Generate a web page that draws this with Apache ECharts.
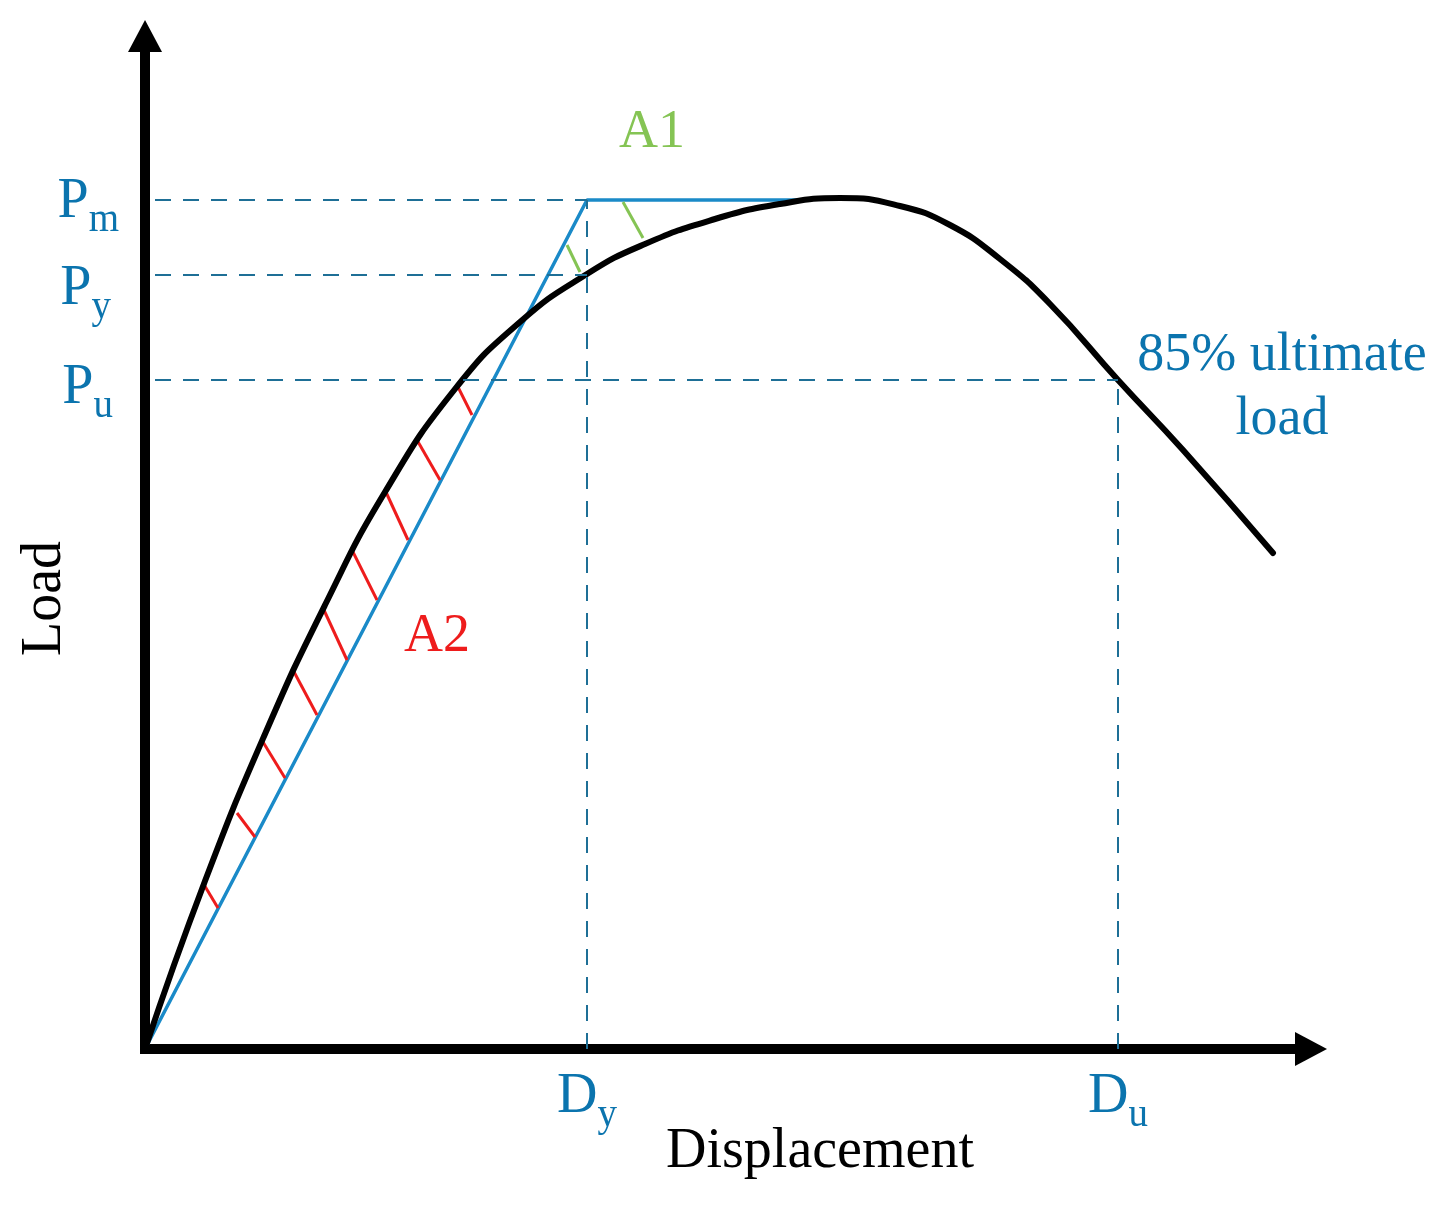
<!DOCTYPE html>
<html>
<head>
<meta charset="utf-8">
<script src="https://cdn.jsdelivr.net/npm/echarts@6/dist/echarts.min.js"></script>
<style>
  html, body { margin: 0; padding: 0; background: #fff; }
  #chart { width: 1452px; height: 1209px; }
</style>
</head>
<body>
<div id="chart"></div>
<script>
// load-displacement curve (arbitrary units)
var curveDisp = [0, 6.0, 12.0, 18.0, 24.0, 31.0, 37.5, 44.2, 50.0, 57.0, 63.5, 69.5, 75.5, 80.5, 85.5, 90.5, 97.3, 103.8, 112.8];
var curveLoad = [0, 16.8, 31.5, 44.4, 55.7, 66.0, 72.7, 77.5, 80.5, 83.0, 84.5, 85.1, 84.3, 82.4, 79.0, 74.5, 66.9, 59.9, 49.6];

// equivalent bilinear line
var bilinDisp = [0, 44.2, 66];
var bilinLoad = [0, 84.9, 84.9];

// characteristic load levels (Pm, Py, Pu) and displacements (Dy, Du)
var loadSubs = ['m', 'y', 'u'];
var loadValues = [84.9, 77.4, 66.9];
var loadLineEnds = [44.2, 44.2, 97.3];
var dispSubs = ['y', 'u'];
var dispValues = [44.2, 97.3];
var dispLineTops = [84.9, 66.9];

// hatch strokes [x1, y1, x2, y2]
var hatchA2 = [
  [5.8, 16.6, 7.3, 14.1],
  [9.2, 23.6, 11.0, 21.2],
  [11.8, 30.7, 14.0, 27.1],
  [14.8, 37.9, 17.2, 33.4],
  [17.8, 44.1, 20.2, 38.9],
  [20.7, 49.9, 23.2, 44.9],
  [24.0, 55.9, 26.3, 50.9],
  [27.2, 60.9, 29.5, 56.9],
  [31.2, 66.4, 32.7, 63.4]
];
var hatchA1 = [
  [42.2, 80.4, 43.5, 77.7],
  [47.8, 84.7, 49.8, 81.1]
];

// text annotations
var noteText = ['A1', 'A2', '85% ultimate\nload'];
var notePos = [[50.7, 91.6], [29.2, 41.2], [113.7, 66.1]];

var dispMax = 116.6;
var loadMax = 101.3;

var serif = 'Liberation Serif';
var lblBlue = '#0B74AE';
var guideBlue = '#1E6F96';
var lineBlue = '#1A8AC8';
var green = '#85C454';
var red = '#EE1C1C';

// P / D with a lowered subscript
var richSub = {
  p: { fontFamily: serif, fontSize: 56, lineHeight: 76, color: lblBlue },
  s: { fontFamily: serif, fontSize: 39, verticalAlign: 'bottom', color: lblBlue }
};
var loadLabelOffsets = [[0, 2], [-8, 14], [-6, 8]];

function zip(xs, ys) {
  return xs.map(function (x, i) { return [x, ys[i]]; });
}

function hatchData(list) {
  return list.map(function (h) {
    return { coords: [[h[0], h[1]], [h[2], h[3]]] };
  });
}

var guideData = [];
loadValues.forEach(function (v, i) {
  guideData.push([
    { coord: [1.0, v], label: { formatter: '{p|P}{s|' + loadSubs[i] + '}', distance: 36, offset: loadLabelOffsets[i] } },
    { coord: [loadLineEnds[i], v] }
  ]);
});
dispValues.forEach(function (v, i) {
  guideData.push([
    { coord: [v, 0], label: { formatter: '{p|D}{s|' + dispSubs[i] + '}', distance: 10 } },
    { coord: [v, dispLineTops[i]] }
  ]);
});

var noteColors = [green, red, lblBlue];
var noteData = noteText.map(function (t, i) {
  return {
    value: notePos[i],
    label: { formatter: t, color: noteColors[i] }
  };
});

var chart = echarts.init(document.getElementById('chart'));
chart.setOption({
  animation: false,
  backgroundColor: '#fff',
  grid: { left: 145, right: 141, top: 36, bottom: 160 },
  xAxis: {
    type: 'value',
    min: 0,
    max: dispMax,
    name: 'Displacement',
    nameLocation: 'middle',
    nameGap: 75,
    nameTextStyle: { fontFamily: serif, fontSize: 56, color: '#000', padding: [0, 0, 0, 184] },
    axisLine: {
      onZero: false,
      symbol: ['none', 'triangle'],
      symbolSize: [34, 32],
      lineStyle: { color: '#000', width: 10, cap: 'square' }
    },
    axisTick: { show: false },
    axisLabel: { show: false },
    splitLine: { show: false }
  },
  yAxis: {
    type: 'value',
    min: 0,
    max: loadMax,
    name: 'Load',
    nameLocation: 'middle',
    nameGap: 72,
    nameRotate: 90,
    nameTextStyle: { fontFamily: serif, fontSize: 56, color: '#000', padding: [0, 112, 0, 0] },
    axisLine: {
      onZero: false,
      symbol: ['none', 'triangle'],
      symbolSize: [34, 32],
      lineStyle: { color: '#000', width: 10, cap: 'square' }
    },
    axisTick: { show: false },
    axisLabel: { show: false },
    splitLine: { show: false }
  },
  series: [
    {
      name: 'guides',
      type: 'line',
      data: [],
      silent: true,
      z: 1,
      markLine: {
        silent: true,
        symbol: 'none',
        animation: false,
        lineStyle: { color: guideBlue, width: 2, type: [16, 12] },
        label: { show: true, position: 'start', rich: richSub },
        emphasis: { disabled: true },
        data: guideData
      }
    },
    {
      name: 'bilinear',
      type: 'line',
      data: zip(bilinDisp, bilinLoad),
      symbol: 'none',
      lineStyle: { color: lineBlue, width: 3.5 },
      z: 2
    },
    {
      name: 'A2 hatch',
      type: 'lines',
      coordinateSystem: 'cartesian2d',
      silent: true,
      lineStyle: { color: red, width: 3, opacity: 1 },
      data: hatchData(hatchA2),
      z: 3
    },
    {
      name: 'A1 hatch',
      type: 'lines',
      coordinateSystem: 'cartesian2d',
      silent: true,
      lineStyle: { color: green, width: 3, opacity: 1 },
      data: hatchData(hatchA1),
      z: 3
    },
    {
      name: 'load curve',
      type: 'line',
      data: zip(curveDisp, curveLoad),
      smooth: 0.5,
      symbol: 'none',
      lineStyle: { color: '#000', width: 6, cap: 'round' },
      z: 4
    },
    {
      name: 'notes',
      type: 'scatter',
      symbolSize: 0,
      silent: true,
      itemStyle: { opacity: 1 },
      label: {
        show: true,
        position: 'inside',
        fontFamily: serif,
        fontSize: 54,
        lineHeight: 64,
        align: 'center',
        opacity: 1,
        textBorderWidth: 0,
        textBorderColor: 'transparent'
      },
      data: noteData,
      z: 5
    }
  ]
});
</script>
</body>
</html>
